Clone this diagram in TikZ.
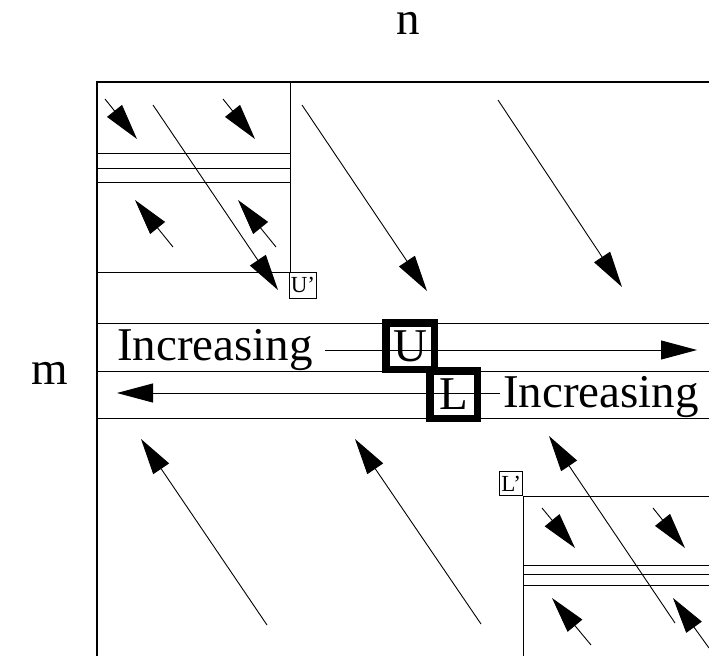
\documentclass[tikz,border=0pt]{standalone}
\usepackage{fontspec}
\setmainfont{Liberation Serif}
\usetikzlibrary{arrows.meta}
\begin{document}
\begin{tikzpicture}[x=1pt,y=-1pt,
  ln/.style={line width=0.9pt},
  arr/.style={line width=0.9pt,-{Triangle[length=36pt,width=19pt]}},
  big/.style={font=\fontsize{47}{50}\selectfont, inner sep=0pt},
  thickbox/.style={draw,line width=7.5pt,inner sep=0pt,font=\fontsize{47}{50}\selectfont},
  tag/.style={draw,line width=0.8pt,inner sep=0pt,font=\fontsize{23}{24}\selectfont}]
\useasboundingbox (0,0) rectangle (709,656);
% axis labels
\node[big,anchor=base] (n) at (408,34) {n};
\node[big,anchor=base] (m) at (50,384) {m};
% frame
\draw[line width=1.5pt] (97,656) -- (97,82) -- (709,82);
% top-left block
\draw[ln] (290,82) -- (290,272);
\draw[ln] (97,153) -- (290,153);
\draw[ln] (97,168) -- (290,168);
\draw[ln] (97,182) -- (290,182);
\draw[ln] (97,272) -- (290,272);
\node[tag,minimum width=27,minimum height=26,anchor=north west] (up) at (289,272) {U’};
\draw[arr] (105,99) -- (137,139);
\draw[arr] (223,99) -- (255,139);
\draw[arr] (173,247) -- (135,200);
\draw[arr] (276,247) -- (238,200);
\draw[arr] (153,105) -- (278,290);
\draw[arr] (302,105) -- (427,291);
\draw[arr] (498,100) -- (622,287);
% band
\draw[ln] (97,323) -- (709,323);
\draw[ln] (97,371) -- (709,371);
\draw[ln] (97,418) -- (709,418);
\node[big,anchor=base west] (inc1) at (117,360) {Increasing};
\node[thickbox,minimum width=48.5,minimum height=46.5] (U) at (410,346) {U};
\node[thickbox,minimum width=47.5,minimum height=47.5] (L) at (453.5,394.5) {L};
\node[big,anchor=base west] (inc2) at (503,407) {Increasing};
\coordinate (c1) at (325,350);
\coordinate (e1) at (697,350);
\coordinate (c2) at (500,393);
\coordinate (e2) at (117,393);
\draw[arr] (c1) -- (e1);
\draw[arr] (c2) -- (e2);
% lower arrows
\draw[arr] (267,625) -- (141,439);
\draw[arr] (481,624) -- (355,439);
\draw[arr] (675,623) -- (549,436);
% bottom-right block
\draw[ln] (523,656) -- (523,496) -- (709,496);
\draw[ln] (523,565) -- (709,565);
\draw[ln] (523,574) -- (709,574);
\draw[ln] (523,585) -- (709,585);
\node[tag,minimum width=23,minimum height=24,anchor=south east] (lp) at (523,496) {L’};
\draw[arr] (542,508) -- (575,548);
\draw[arr] (653,508) -- (685,548);
\draw[arr] (591,645) -- (552,598);
\draw[arr] (709,648) -- (673,598);
\end{tikzpicture}
\end{document}
